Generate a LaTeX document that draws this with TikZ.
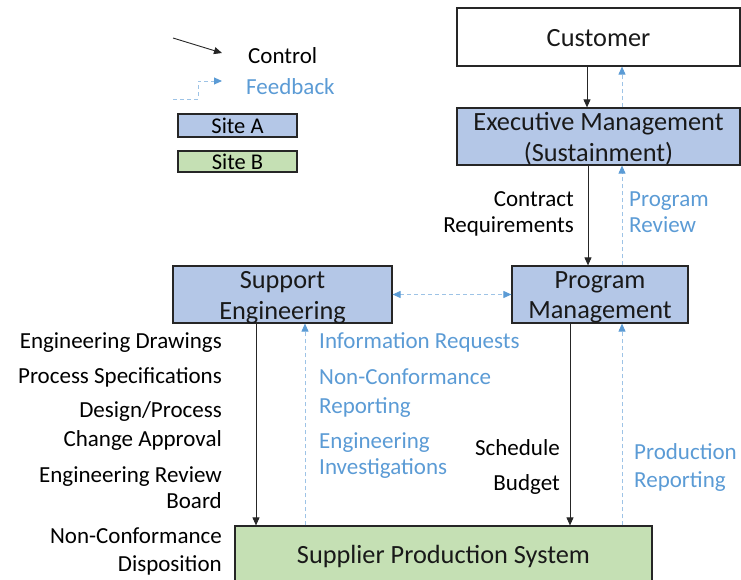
\documentclass[tikz,border=0pt]{standalone}
\usepackage{fontspec}
\setmainfont{Carlito}
\usetikzlibrary{arrows.meta}
\definecolor{siteA}{HTML}{B4C7E7}
\definecolor{siteB}{HTML}{C5E0B4}
\definecolor{fbtext}{HTML}{5B9BD5}
\definecolor{fbline}{HTML}{9DC3E6}
\definecolor{boxline}{HTML}{262626}
\tikzset{
  box/.style={draw=boxline, line width=1.2pt, inner sep=0pt},
  boxtxt/.style={inner sep=0pt, align=center,
    font=\fontsize{26.3}{30.5}\selectfont, text=black!90},
  lbl/.style={inner sep=0pt, font=\fontsize{23}{27}\selectfont, text=black},
  fblbl/.style={lbl, text=fbtext},
  sitebox/.style={draw=boxline, line width=1.2pt, minimum width=119pt, inner sep=0pt,
    font=\fontsize{22.5}{25}\selectfont},
  ctrl/.style={draw=black!85, line width=0.9pt, -{Triangle[length=8pt,width=7pt]}},
  fbtip/.tip={Triangle[length=8pt,width=7pt,color=fbtext,fill=fbtext]},
  fb/.style={draw=fbline, line width=0.9pt, dash pattern=on 4pt off 3pt, -fbtip},
  fbboth/.style={fb, fbtip-fbtip},
}
\begin{document}
\begin{tikzpicture}[x=1pt,y=-1pt]
\path[use as bounding box] (0,0) rectangle (741,580);

% main blocks
\node[box, fill=white, minimum width=283pt, minimum height=58pt] (cust) at (598.5,37) {};
\node[boxtxt] (custtxt) at ([yshift=-1pt]cust.center) {Customer};
\node[box, fill=siteA, minimum width=283pt, minimum height=57pt] (exec) at (598.5,136.5) {};
\node[boxtxt] (exectxt) at ([yshift=-2pt]exec.center) {Executive Management\\(Sustainment)};
\node[box, fill=siteA, minimum width=176pt, minimum height=57pt] (prog) at (600,294.5) {};
\node[boxtxt] (progtxt) at ([yshift=-3pt]prog.center) {Program\\Management};
\node[box, fill=siteA, minimum width=219pt, minimum height=57pt] (supp) at (282.5,294.5) {};
\node[boxtxt] (supptxt) at ([yshift=-3pt]supp.center) {Support\\Engineering};
\node[box, fill=siteB, minimum width=417pt, minimum height=64pt] (prod) at (443.5,558) {};
\node[boxtxt, anchor=base] (prodtxt) at (443.5,563) {Supplier Production System};

% legend
\coordinate (ctlA) at (173,38);
\coordinate (ctlB) at (222,53);
\draw[ctrl] (ctlA) -- (ctlB);
\node[lbl, anchor=base west] (ctltxt) at (248,64) {Control};
\coordinate (fbA) at (173,99);
\coordinate (fbB) at (222,81);
\draw[fb] (fbA) -- (198,99) |- (fbB);
\node[fblbl, anchor=base west] (fbtxt) at (246,95) {Feedback};
\node[sitebox, fill=siteA, minimum height=23pt] (sitea) at (237.5,125.5) {Site A};
\node[sitebox, fill=siteB, minimum height=21pt] (siteb) at (237.5,161.5) {Site B};

% control flow
\draw[ctrl] ([xshift=-11.5pt]cust.south) -- ([xshift=-11.5pt]cust.south |- exec.north);
\draw[ctrl] ([xshift=-10.5pt]exec.south) -- ([xshift=-10.5pt]exec.south |- prog.north);
\draw[ctrl] ([xshift=-30pt]prog.south) -- ([xshift=-30pt]prog.south |- prod.north);
\draw[ctrl] ([xshift=-26.5pt]supp.south) -- ([xshift=-26.5pt]supp.south |- prod.north);

% feedback flow
\draw[fb] ([xshift=23.5pt]exec.north) -- ([xshift=23.5pt]exec.north |- cust.south);
\draw[fb] ([xshift=22pt]prog.north) -- ([xshift=22pt]prog.north |- exec.south);
\draw[fb] ([xshift=22pt]prog.south |- prod.north) -- ([xshift=22pt]prog.south);
\draw[fb] ([xshift=22.5pt]supp.south |- prod.north) -- ([xshift=22.5pt]supp.south);
\draw[fbboth] (supp.east) -- (prog.west);

% labels on the control paths
\node[lbl, anchor=base east] (cr1) at (574,206) {Contract};
\node[lbl, anchor=base east] (cr2) at (574,233) {Requirements};
\node[lbl, anchor=base east] (sb1) at (560,455) {Schedule};
\node[lbl, anchor=base east] (sb2) at (560,490) {Budget};
\node[lbl, anchor=base east] (e1) at (222,348) {Engineering Drawings};
\node[lbl, anchor=base east] (e2) at (222,383) {Process Specifications};
\node[lbl, anchor=base east] (e3) at (222,417) {Design/Process};
\node[lbl, anchor=base east] (e4) at (222,446) {Change Approval};
\node[lbl, anchor=base east] (e5) at (222,482) {Engineering Review};
\node[lbl, anchor=base east] (e6) at (222,508) {Board};
\node[lbl, anchor=base east] (e7) at (222,543) {Non-Conformance};
\node[lbl, anchor=base east] (e8) at (222,571) {Disposition};

% labels on the feedback paths
\node[fblbl, anchor=base west] (pr1) at (629,206) {Program};
\node[fblbl, anchor=base west] (pr2) at (629,233) {Review};
\node[fblbl, anchor=base west] (pp1) at (634,459) {Production};
\node[fblbl, anchor=base west] (pp2) at (634,487) {Reporting};
\node[fblbl, anchor=base west] (f1) at (319,348) {Information Requests};
\node[fblbl, anchor=base west] (f2) at (319,384) {Non-Conformance};
\node[fblbl, anchor=base west] (f3) at (319,413) {Reporting};
\node[fblbl, anchor=base west] (f4) at (319,448) {Engineering};
\node[fblbl, anchor=base west] (f5) at (319,474) {Investigations};
\end{tikzpicture}
\end{document}
